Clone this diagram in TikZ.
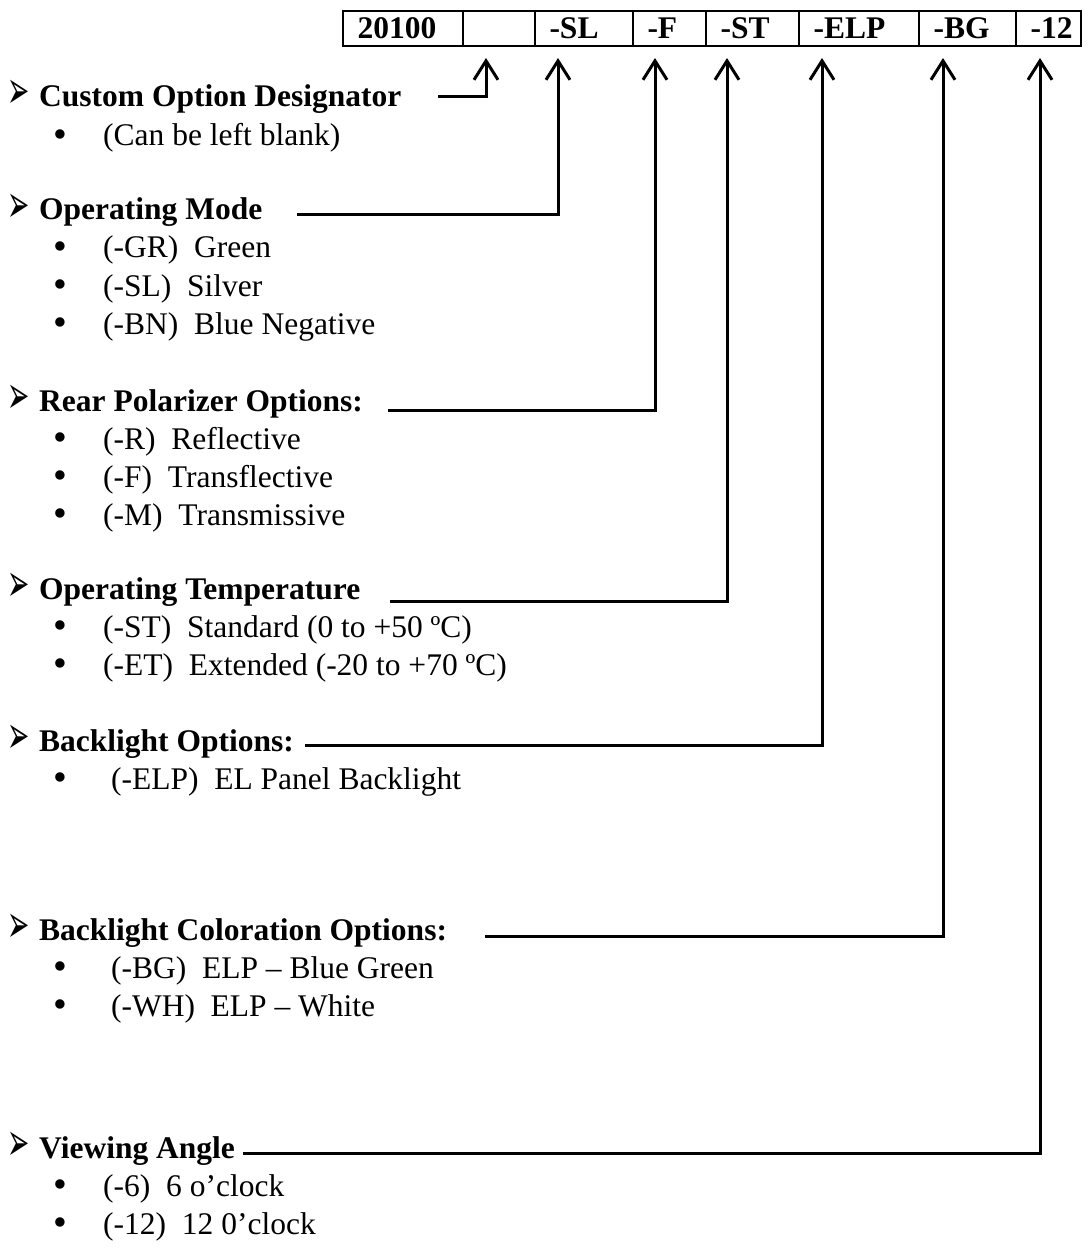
\documentclass[tikz,border=0pt]{standalone}
\usepackage{fontspec}
\setmainfont{Liberation Serif}
\newfontfamily\dingfont{DejaVu Sans}
\usetikzlibrary{arrows.meta}
\newcommand{\hd}[1]{\makebox[31pt][l]{\hspace{-1pt}\raisebox{-2pt}{\scalebox{0.7}[1.4]{\dingfont\fontsize{38}{38}\selectfont ➢}}}#1}
\newcommand{\itm}[1]{\makebox[50pt][l]{\raisebox{-1.5pt}{\scalebox{1.25}{•}}}#1}
\newcommand{\cellt}[2]{\makebox[#1][l]{\hspace{14.5pt}#2}}
\begin{document}
\begin{tikzpicture}[x=1pt,y=-1pt,
  txt/.style={anchor=base west, inner sep=0pt, font=\fontsize{31.5}{38}\selectfont},
  head/.style={txt, font=\fontsize{31.5}{38}\selectfont\bfseries},
  cell/.style={draw, line width=2pt, anchor=north west, minimum height=35pt,
    inner sep=0pt, font=\fontsize{31.5}{38}\selectfont\bfseries},
  conn/.style={line width=3pt, -{Straight Barb[length=19pt,width=24pt,line width=3pt]}},
]
\useasboundingbox (0,0) rectangle (1087,1249);
% code table
\node[cell] (c0) at (342,10) {\cellt{120pt}{20100}};
\node[cell] (c1) at (462,10) {\cellt{72pt}{}};
\node[cell] (c2) at (534,10) {\cellt{98pt}{-SL}};
\node[cell] (c3) at (632,10) {\cellt{73pt}{-F}};
\node[cell] (c4) at (705,10) {\cellt{93pt}{-ST}};
\node[cell] (c5) at (798,10) {\cellt{120pt}{-ELP}};
\node[cell] (c6) at (918,10) {\cellt{97pt}{-BG}};
\node[cell] (c7) at (1015,10) {\cellt{65pt}{-12}};
% arrow tips under the cells
\coordinate (t1) at (486,58);
\coordinate (t2) at (558,58);
\coordinate (t3) at (655,58);
\coordinate (t4) at (727,58);
\coordinate (t5) at (822,58);
\coordinate (t6) at (943,58);
\coordinate (t7) at (1040,58);
% headings and items
\node[head] (h1) at (8,107) {\hd{Custom Option Designator}};
\node[txt] (i11) at (53,146) {\itm{(Can be left blank)}};

\node[head] (h2) at (8,220) {\hd{Operating Mode}};
\node[txt] (i21) at (53,258) {\itm{(-GR)\ \ Green}};
\node[txt] (i22) at (53,296) {\itm{(-SL)\ \ Silver}};
\node[txt] (i23) at (53,334) {\itm{(-BN)\ \ Blue Negative}};

\node[head] (h3) at (8,411) {\hd{Rear Polarizer Options:}};
\node[txt] (i31) at (53,449) {\itm{(-R)\ \ Reflective}};
\node[txt] (i32) at (53,487) {\itm{(-F)\ \ Transflective}};
\node[txt] (i33) at (53,525) {\itm{(-M)\ \ Transmissive}};

\node[head] (h4) at (8,599) {\hd{Operating Temperature}};
\node[txt] (i41) at (53,637) {\itm{(-ST)\ \ Standard (0 to +50 ºC)}};
\node[txt] (i42) at (53,675) {\itm{(-ET)\ \ Extended (-20 to +70 ºC)}};

\node[head] (h5) at (8,751) {\hd{Backlight Options:}};
\node[txt] (i51) at (53,789) {\itm{\ (-ELP)\ \ EL Panel Backlight}};

\node[head] (h6) at (8,940) {\hd{Backlight Coloration Options:}};
\node[txt] (i61) at (53,978) {\itm{\ (-BG)\ \ ELP – Blue Green}};
\node[txt] (i62) at (53,1016) {\itm{\ (-WH)\ \ ELP – White}};

\node[head] (h7) at (8,1158) {\hd{Viewing Angle}};
\node[txt] (i71) at (53,1196) {\itm{(-6)\ \ 6 o’clock}};
\node[txt] (i72) at (53,1234) {\itm{(-12)\ \ 12 0’clock}};
% connector start points
\coordinate (s1) at (438,97);
\coordinate (s2) at (297,215);
\coordinate (s3) at (388,410);
\coordinate (s4) at (390,601);
\coordinate (s5) at (305,745);
\coordinate (s6) at (485,936);
\coordinate (s7) at (243,1153);
\draw[conn] (s1) -| (t1);
\draw[conn] (s2) -| (t2);
\draw[conn] (s3) -| (t3);
\draw[conn] (s4) -| (t4);
\draw[conn] (s5) -| (t5);
\draw[conn] (s6) -| (t6);
\draw[conn] (s7) -| (t7);
\end{tikzpicture}
\end{document}
